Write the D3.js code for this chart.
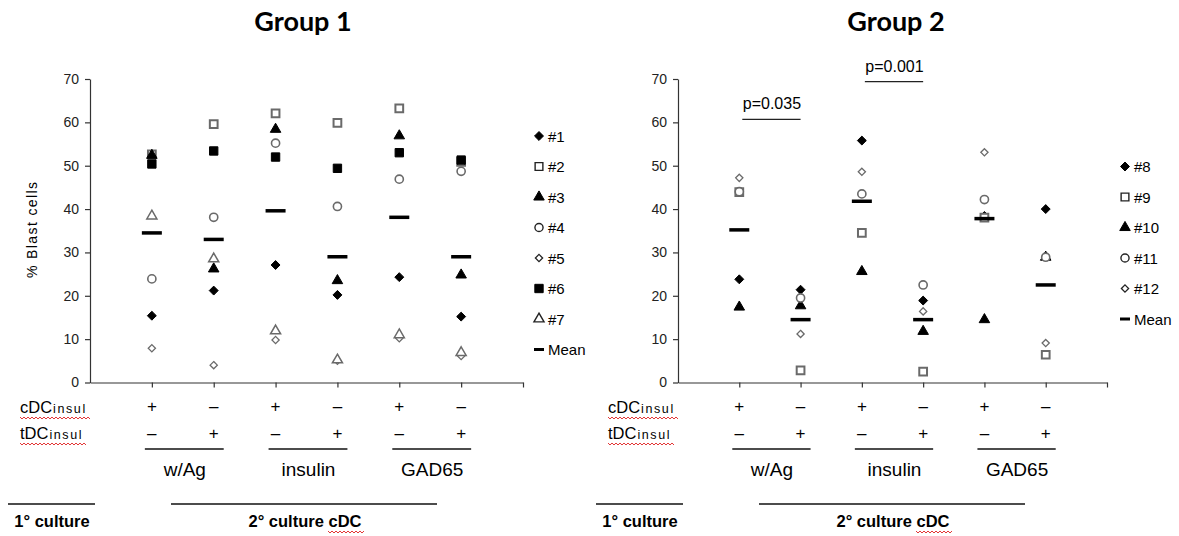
<!DOCTYPE html>
<html>
<head>
<meta charset="utf-8">
<script src="https://cdn.jsdelivr.net/npm/d3@7"></script>
<style>
  body { margin: 0; background: #fff; }
  svg { display: block; }
  .tick text { font-family: "Liberation Sans", Arial, sans-serif; font-size: 14px; fill: #222; }
  .axis path, .axis line { stroke: #333; stroke-width: 1.2; }
</style>
</head>
<body>
<div id="chart"></div>
<script>
// x positions of the six stimulation conditions
const conditions = [1, 2, 3, 4, 5, 6];
const yTicks = [0, 10, 20, 30, 40, 50, 60, 70];

// Group 1 patients (% blast cells per condition)
const group1Ids = ["#1", "#2", "#3", "#4", "#5", "#6", "#7"];
const g1p1 = [15.4, 21.2, 27.1, 20.2, 24.3, 15.2];
const g1p2 = [52.6, 59.6, 62.1, 59.9, 63.2, 50.9];
const g1p3 = [52.4, 26.2, 58.4, 23.5, 56.9, 24.8];
const g1p4 = [23.9, 38.1, 55.2, 40.6, 46.9, 48.7];
const g1p5 = [7.9, 4.0, 9.8, 5.0, 10.2, 6.1];
const g1p6 = [50.4, 53.4, 52.0, 49.4, 53.0, 51.3];
const g1p7 = [38.4, 28.5, 11.9, 5.2, 11.0, 6.9];
const g1Mean = [34.5, 33.0, 39.6, 29.0, 38.1, 29.0];

// Group 2 patients
const group2Ids = ["#8", "#9", "#10", "#11", "#12"];
const g2p8 = [23.8, 21.4, 55.8, 18.9, 38.4, 40.0];
const g2p9 = [43.9, 2.8, 34.5, 2.5, 38.0, 6.4];
const g2p10 = [17.4, 17.7, 25.6, 11.8, 14.5, 28.9];
const g2p11 = [44.0, 19.5, 43.5, 22.5, 42.2, 28.9];
const g2p12 = [47.2, 11.2, 48.6, 16.4, 53.1, 9.1];
const g2Mean = [35.2, 14.5, 41.8, 14.5, 37.8, 22.5];

const cdcSigns = ["+", "–", "+", "–", "+", "–"];
const tdcSigns = ["–", "+", "–", "+", "–", "+"];
const antigens = ["w/Ag", "insulin", "GAD65"];
const pValues = [
  { from: 1, to: 2, label: "p=0.035", y: 60.7 },
  { from: 3, to: 4, label: "p=0.001", y: 69.4 }
];

// rotated-square diamond (d3's own diamond is too narrow)
const symbolRhomb = {
  draw(ctx, size) {
    const r = Math.sqrt(size / 2);
    ctx.moveTo(0, -r); ctx.lineTo(r, 0); ctx.lineTo(0, r); ctx.lineTo(-r, 0); ctx.closePath();
  }
};

// marker style per series slot (Excel-like default order)
const markerStyles = [
  { shape: symbolRhomb, size: 40, fill: "#000", stroke: "#000", sw: 1 },
  { shape: d3.symbolSquare, size: 60, fill: "#fff", stroke: "#6a6a6a", sw: 2 },
  { shape: d3.symbolTriangle, size: 48, fill: "#000", stroke: "#000", sw: 1 },
  { shape: d3.symbolCircle, size: 52, fill: "#fff", stroke: "#6a6a6a", sw: 1.6 },
  { shape: symbolRhomb, size: 26, fill: "#fff", stroke: "#6a6a6a", sw: 1.3 },
  { shape: d3.symbolSquare, size: 70, fill: "#000", stroke: "#000", sw: 1 },
  { shape: d3.symbolTriangle, size: 44, fill: "#fff", stroke: "#6a6a6a", sw: 1.5 }
];

const FONT = "'Liberation Sans', Arial, sans-serif";

const svg = d3.select("#chart").append("svg")
  .attr("width", 1179).attr("height", 536);

function wavy(g, x0, x1, y) {
  let d = `M${x0},${y}`;
  for (let x = x0, i = 0; x < x1; x += 2, i++) {
    d += ` L${x + 2},${y + (i % 2 === 0 ? 2 : 0)}`;
  }
  g.append("path").attr("d", d).attr("fill", "none")
    .attr("stroke", "#e02020").attr("stroke-width", 0.9);
}

function drawPanel(cfg) {
  const g = svg.append("g");
  const x = d3.scaleLinear().domain([0, 7]).range([cfg.x0, cfg.x1]);
  const y = d3.scaleLinear().domain([0, 70]).range([382.5, 79]);

  g.append("text")
    .attr("x", cfg.titleX).attr("y", 31)
    .attr("text-anchor", "middle")
    .style("font-family", "Lato, 'Open Sans', sans-serif")
    .style("font-weight", "bold").style("font-size", "27px")
    .text(cfg.title);

  g.append("g").attr("class", "axis")
    .attr("transform", `translate(${cfg.x0},0)`)
    .call(d3.axisLeft(y).tickValues(yTicks).tickSize(5).tickSizeOuter(0).tickPadding(6));

  g.append("g").attr("class", "axis")
    .attr("transform", `translate(0,${y(0)})`)
    .call(d3.axisBottom(x).tickValues([1, 2, 3, 4, 5, 6, 7]).tickFormat("").tickSize(5).tickSizeOuter(0));

  if (cfg.yLabel) {
    g.append("text")
      .attr("transform", `translate(37,230) rotate(-90)`)
      .attr("text-anchor", "middle")
      .style("font-family", FONT).style("font-size", "14px")
      .attr("textLength", 96).attr("lengthAdjust", "spacing")
      .text(cfg.yLabel);
  }

  // points, series in legend order
  cfg.series.forEach((vals, si) => {
    const st = markerStyles[si];
    g.append("g").selectAll("path")
      .data(conditions.map((c, i) => ({ c, v: vals[i] })))
      .join("path")
      .attr("transform", d => `translate(${x(d.c)},${y(d.v)})`)
      .attr("d", d3.symbol(st.shape, st.size))
      .attr("fill", st.fill).attr("stroke", st.stroke).attr("stroke-width", st.sw);
  });

  // means
  g.append("g").selectAll("line")
    .data(conditions.map((c, i) => ({ c, v: cfg.mean[i] })))
    .join("line")
    .attr("x1", d => x(d.c) - 10).attr("x2", d => x(d.c) + 10)
    .attr("y1", d => y(d.v)).attr("y2", d => y(d.v))
    .attr("stroke", "#000").attr("stroke-width", 3.5);

  // legend
  const lg = g.append("g");
  const labels = cfg.ids.concat(["Mean"]);
  labels.forEach((lab, i) => {
    const ly = cfg.legendY + i * 30.5;
    const lx = x(7) + cfg.legendDx;
    if (lab === "Mean") {
      lg.append("line").attr("x1", lx - 5).attr("x2", lx + 5)
        .attr("y1", ly).attr("y2", ly).attr("stroke", "#000").attr("stroke-width", 3);
    } else {
      const st = markerStyles[i];
      lg.append("path").attr("transform", `translate(${lx},${ly})`)
        .attr("d", d3.symbol(st.shape, st.size))
        .attr("fill", st.fill).attr("stroke", st.fill === "#fff" ? "#222" : "#000")
        .attr("stroke-width", Math.min(st.sw, 1.4));
    }
    lg.append("text").attr("x", lx + 9).attr("y", ly + 5.5)
      .style("font-family", FONT).style("font-size", "15px")
      .text(lab);
  });

  // p-value brackets
  (cfg.pvals || []).forEach(p => {
    g.append("line")
      .attr("x1", x(p.from) + 3).attr("x2", x(p.to))
      .attr("y1", y(p.y)).attr("y2", y(p.y))
      .attr("stroke", "#222").attr("stroke-width", 1.2);
    g.append("text")
      .attr("x", (x(p.from) + x(p.to)) / 2 + 2).attr("y", y(p.y) - 10)
      .attr("text-anchor", "middle")
      .style("font-family", FONT).style("font-size", "16px")
      .text(p.label);
  });

  // condition table under the axis
  const tx = cfg.x0 - 70;
  [["cDC", 413], ["tDC", 439]].forEach(([lab, by]) => {
    const t = g.append("text").attr("x", tx).attr("y", by)
      .style("font-family", FONT).style("font-size", "16.5px");
    t.append("tspan").text(lab);
    t.append("tspan").style("font-size", "12.5px").style("letter-spacing", "1.6px")
      .attr("dx", 1).text("insul");
    wavy(g, tx, tx + (lab === "cDC" ? 70 : 66), by + 4);
  });

  g.selectAll(".cdc").data(conditions).join("text")
    .attr("x", d => x(d)).attr("y", 412)
    .attr("text-anchor", "middle")
    .style("font-family", FONT).style("font-size", "17px")
    .text((d, i) => cdcSigns[i]);
  g.selectAll(".tdc").data(conditions).join("text")
    .attr("x", d => x(d)).attr("y", 439)
    .attr("text-anchor", "middle")
    .style("font-family", FONT).style("font-size", "17px")
    .text((d, i) => tdcSigns[i]);

  antigens.forEach((a, k) => {
    const c0 = conditions[k * 2], c1 = conditions[k * 2 + 1];
    g.append("line")
      .attr("x1", x(c0) - 7).attr("x2", x(c1) + 10)
      .attr("y1", 449).attr("y2", 449)
      .attr("stroke", "#111").attr("stroke-width", 1.3);
    g.append("text")
      .attr("x", (x(c0) + x(c1)) / 2 + 2).attr("y", 476)
      .attr("text-anchor", "middle")
      .style("font-family", FONT).style("font-size", "19px")
      .text(a);
  });

  // culture labels
  g.append("line").attr("x1", cfg.x0 - 82).attr("x2", cfg.x0 + 5)
    .attr("y1", 504).attr("y2", 504).attr("stroke", "#111").attr("stroke-width", 1.3);
  g.append("text").attr("x", cfg.x0 - 38).attr("y", 527)
    .attr("text-anchor", "middle")
    .style("font-family", FONT).style("font-size", "16.5px").style("font-weight", "bold")
    .text("1° culture");

  g.append("line").attr("x1", cfg.x0 + 81).attr("x2", cfg.x0 + 347)
    .attr("y1", 504).attr("y2", 504).attr("stroke", "#111").attr("stroke-width", 1.3);
  const t2 = g.append("text").attr("x", cfg.x0 + 215).attr("y", 527)
    .attr("text-anchor", "middle")
    .style("font-family", FONT).style("font-size", "16.5px").style("font-weight", "bold");
  t2.append("tspan").text("2° culture ");
  t2.append("tspan").text("cDC");
  wavy(g, cfg.x0 + 238, cfg.x0 + 273, 531);
}

drawPanel({
  title: "Group 1", titleX: 303, x0: 90, x1: 523,
  yLabel: "% Blast cells",
  ids: group1Ids,
  series: [g1p1, g1p2, g1p3, g1p4, g1p5, g1p6, g1p7],
  mean: g1Mean, legendY: 136, legendDx: 16
});

drawPanel({
  title: "Group 2", titleX: 896, x0: 678, x1: 1107,
  ids: group2Ids,
  series: [g2p8, g2p9, g2p10, g2p11, g2p12],
  mean: g2Mean, legendY: 166.5, legendDx: 18,
  pvals: pValues
});
</script>
</body>
</html>
